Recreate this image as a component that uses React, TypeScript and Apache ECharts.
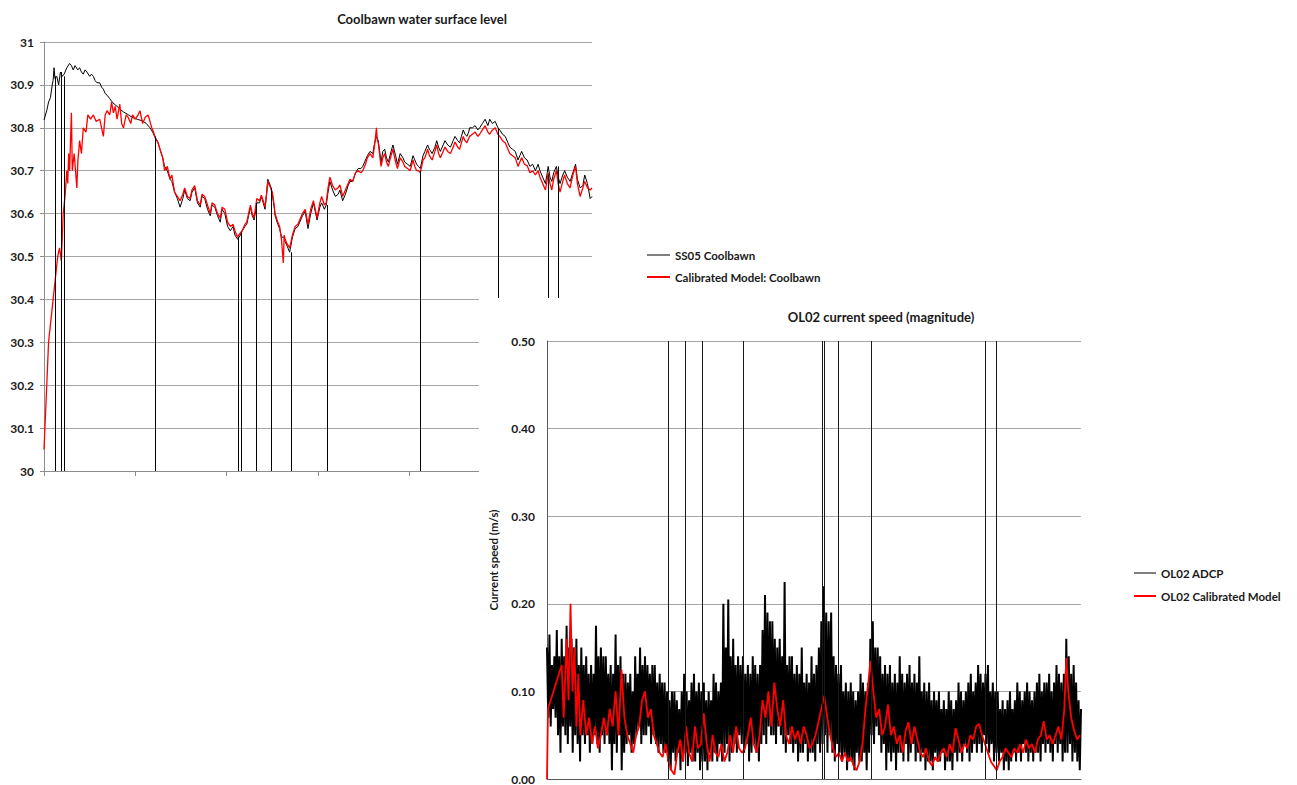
import React, { useEffect, useRef } from "react";
import * as echarts from "echarts";

const FONT = "Lato, 'Open Sans', 'Liberation Sans', sans-serif";
const TEXT = "#1a1a1a";

// ---------------- Chart 1: Coolbawn water surface level ----------------
// x: time step (0..600), y: water level (m)
const ss05Level: [number, number][] = [
  [0, 30.818], [3, 30.84], [5, 30.86], [7, 30.87], [9, 30.9], [10, 30.91], [11, 30.94], [12, 30.915],
  [14, 30.92], [16, 30.9], [18, 30.93], [20, 30.92], [22, 30.925], [23, 30.93], [25, 30.94], [28, 30.95],
  [30, 30.945], [32, 30.935], [34, 30.945], [37, 30.935], [39, 30.94], [41, 30.93], [43, 30.925], [45, 30.935],
  [47, 30.93], [50, 30.92], [52, 30.925], [54, 30.92], [56, 30.91], [58, 30.905], [61, 30.905], [63, 30.895],
  [65, 30.89], [67, 30.88], [69, 30.876], [72, 30.868], [74, 30.862], [77, 30.855], [80, 30.85], [84, 30.842],
  [87, 30.837], [91, 30.832], [94, 30.828], [98, 30.823], [102, 30.82], [105, 30.818], [108, 30.816], [112, 30.81],
  [116, 30.8], [119, 30.79], [121, 30.78], [124, 30.77], [127, 30.75], [130, 30.73], [132, 30.71], [135, 30.7],
  [138, 30.68], [140, 30.675], [143, 30.65], [146, 30.635], [149, 30.615], [152, 30.635], [154, 30.655], [157, 30.635],
  [160, 30.63], [162, 30.65], [165, 30.66], [168, 30.625], [171, 30.615], [173, 30.64], [176, 30.635], [179, 30.61],
  [182, 30.595], [184, 30.62], [187, 30.615], [190, 30.595], [193, 30.58], [195, 30.61], [198, 30.6], [201, 30.57],
  [204, 30.56], [207, 30.57], [209, 30.55], [212, 30.54], [215, 30.55], [217, 30.56], [220, 30.57], [222, 30.575],
  [224, 30.595], [226, 30.615], [228, 30.595], [230, 30.585], [232, 30.61], [233, 30.625], [236, 30.625], [238, 30.64],
  [240, 30.625], [242, 30.61], [244, 30.655], [245, 30.68], [248, 30.665], [250, 30.645], [252, 30.615], [253, 30.595],
  [256, 30.575], [258, 30.565], [260, 30.545], [263, 30.545], [264, 30.535], [266, 30.525], [269, 30.51], [272, 30.545],
  [275, 30.565], [278, 30.57], [280, 30.58], [283, 30.595], [286, 30.605], [289, 30.565], [292, 30.6], [295, 30.625],
  [297, 30.605], [299, 30.585], [302, 30.615], [304, 30.625], [307, 30.61], [309, 30.62], [311, 30.65], [313, 30.675],
  [316, 30.655], [319, 30.64], [322, 30.645], [324, 30.655], [327, 30.63], [330, 30.645], [333, 30.665], [335, 30.675],
  [338, 30.675], [341, 30.695], [344, 30.705], [347, 30.705], [349, 30.71], [352, 30.725], [354, 30.735], [357, 30.745],
  [360, 30.74], [362, 30.765], [364, 30.78], [366, 30.77], [369, 30.72], [371, 30.745], [373, 30.75], [375, 30.73],
  [377, 30.72], [380, 30.745], [382, 30.76], [385, 30.735], [387, 30.715], [390, 30.74], [393, 30.73], [395, 30.72],
  [398, 30.715], [401, 30.71], [404, 30.735], [406, 30.725], [408, 30.715], [410, 30.71], [412, 30.705], [415, 30.735],
  [417, 30.745], [420, 30.76], [422, 30.75], [425, 30.74], [428, 30.755], [430, 30.77], [432, 30.755], [434, 30.745],
  [437, 30.76], [439, 30.77], [442, 30.76], [445, 30.755], [448, 30.77], [450, 30.78], [453, 30.77], [455, 30.765],
  [457, 30.78], [459, 30.795], [461, 30.785], [463, 30.78], [465, 30.79], [466, 30.8], [469, 30.8], [472, 30.805],
  [475, 30.795], [477, 30.8], [480, 30.81], [483, 30.82], [486, 30.805], [488, 30.82], [491, 30.81], [494, 30.815],
  [497, 30.8], [499, 30.795], [502, 30.785], [505, 30.78], [508, 30.765], [510, 30.755], [513, 30.75], [516, 30.745],
  [519, 30.725], [521, 30.735], [523, 30.745], [526, 30.73], [529, 30.725], [532, 30.71], [535, 30.715], [538, 30.7],
  [541, 30.715], [543, 30.7], [546, 30.685], [549, 30.67], [551, 30.695], [552, 30.71], [554, 30.685], [556, 30.675],
  [558, 30.695], [561, 30.71], [563, 30.685], [565, 30.67], [568, 30.69], [570, 30.7], [573, 30.685], [576, 30.675],
  [579, 30.695], [582, 30.715], [584, 30.68], [587, 30.66], [590, 30.665], [592, 30.69], [595, 30.67], [598, 30.635],
  [600, 30.64],
];

// logger drop-outs (reading fell to zero): [time step, level just before the drop]
const ss05Dropouts: [number, number][] = [
  [12.6, 30.92], [19, 30.93], [22, 30.92], [121.3, 30.78], [212.4, 30.545], [216.1, 30.555],
  [232.5, 30.625], [248.4, 30.66], [270.7, 30.51], [309.9, 30.62], [411.7, 30.7], [497.7, 30.8],
  [552.6, 30.69], [562.7, 30.71],
];

const modelLevel: [number, number][] = [
  [0, 30.05], [1, 30.1], [3, 30.2], [5, 30.3], [10, 30.4], [15, 30.5], [17, 30.52], [19, 30.49],
  [21, 30.6], [23, 30.64], [25, 30.7], [26, 30.67], [27, 30.74], [28, 30.7], [30, 30.835], [31, 30.7],
  [33, 30.74], [36, 30.66], [37, 30.72], [39, 30.77], [41, 30.74], [43, 30.8], [46, 30.79], [48, 30.83],
  [51, 30.82], [54, 30.83], [57, 30.815], [61, 30.82], [63, 30.8], [65, 30.78], [67, 30.83], [69, 30.84],
  [72, 30.83], [74, 30.86], [76, 30.835], [78, 30.85], [80, 30.82], [83, 30.855], [85, 30.81], [87, 30.8],
  [90, 30.83], [92, 30.825], [95, 30.81], [97, 30.83], [100, 30.82], [103, 30.83], [105, 30.84], [108, 30.81],
  [111, 30.825], [114, 30.83], [116, 30.815], [118, 30.8], [120, 30.79], [122, 30.775], [125, 30.765], [127, 30.75],
  [130, 30.73], [132, 30.7], [135, 30.71], [138, 30.68], [140, 30.69], [143, 30.65], [146, 30.64], [149, 30.63],
  [152, 30.645], [154, 30.66], [157, 30.64], [160, 30.635], [162, 30.655], [165, 30.665], [168, 30.63], [171, 30.62],
  [173, 30.645], [176, 30.64], [179, 30.62], [182, 30.6], [184, 30.625], [187, 30.62], [190, 30.6], [193, 30.59],
  [195, 30.615], [198, 30.61], [201, 30.58], [204, 30.57], [207, 30.575], [209, 30.56], [212, 30.545], [215, 30.555],
  [217, 30.56], [220, 30.575], [222, 30.58], [224, 30.6], [226, 30.62], [228, 30.6], [230, 30.59], [232, 30.62],
  [233, 30.635], [236, 30.63], [238, 30.643], [240, 30.63], [242, 30.615], [244, 30.65], [245, 30.675], [248, 30.66],
  [250, 30.65], [252, 30.62], [253, 30.6], [256, 30.58], [258, 30.57], [260, 30.54], [262, 30.485], [263, 30.55],
  [264, 30.54], [266, 30.53], [269, 30.52], [272, 30.55], [275, 30.57], [278, 30.575], [280, 30.585], [283, 30.6],
  [286, 30.61], [289, 30.575], [292, 30.61], [295, 30.63], [297, 30.61], [299, 30.59], [302, 30.625], [304, 30.64],
  [307, 30.62], [309, 30.625], [311, 30.66], [313, 30.685], [316, 30.665], [319, 30.655], [322, 30.66], [324, 30.667],
  [327, 30.64], [330, 30.655], [333, 30.67], [335, 30.68], [338, 30.675], [341, 30.695], [344, 30.7], [347, 30.695],
  [349, 30.7], [352, 30.715], [354, 30.73], [357, 30.74], [360, 30.73], [362, 30.76], [364, 30.8], [365, 30.77],
  [366, 30.765], [369, 30.71], [371, 30.73], [373, 30.74], [375, 30.72], [377, 30.71], [380, 30.735], [382, 30.75],
  [385, 30.72], [387, 30.705], [390, 30.73], [393, 30.72], [395, 30.71], [398, 30.705], [401, 30.7], [404, 30.725],
  [406, 30.71], [408, 30.7], [410, 30.7], [412, 30.695], [415, 30.725], [417, 30.73], [420, 30.75], [422, 30.735],
  [425, 30.725], [428, 30.745], [430, 30.76], [432, 30.74], [434, 30.73], [437, 30.745], [439, 30.755], [442, 30.745],
  [445, 30.74], [448, 30.755], [450, 30.767], [453, 30.755], [455, 30.75], [457, 30.765], [459, 30.78], [461, 30.77],
  [463, 30.765], [465, 30.775], [466, 30.78], [469, 30.785], [472, 30.79], [475, 30.78], [477, 30.785], [480, 30.795],
  [483, 30.805], [486, 30.79], [488, 30.785], [491, 30.795], [494, 30.8], [497, 30.785], [499, 30.78], [502, 30.77],
  [505, 30.765], [508, 30.75], [510, 30.74], [513, 30.735], [516, 30.73], [519, 30.71], [521, 30.72], [523, 30.73],
  [526, 30.715], [529, 30.712], [532, 30.695], [535, 30.7], [538, 30.69], [541, 30.7], [543, 30.685], [546, 30.67],
  [549, 30.655], [551, 30.68], [552, 30.695], [554, 30.67], [556, 30.655], [558, 30.68], [561, 30.7], [563, 30.67],
  [565, 30.65], [568, 30.675], [570, 30.69], [573, 30.67], [576, 30.66], [579, 30.69], [582, 30.71], [584, 30.67],
  [587, 30.64], [590, 30.66], [592, 30.675], [595, 30.66], [598, 30.655], [600, 30.66],
];

// ---------------- Chart 2: OL02 current speed (magnitude) ----------------
const adcpStep = 1.25; // time steps between ADCP readings
const adcpSpeed: number[] = [
  0.15, 0.07, 0.165, 0.06, 0.13, 0.08, 0.14, 0.07,
  0.17, 0.05, 0.14, 0.03, 0.16, 0.06, 0.14, 0.05,
  0.175, 0.04, 0.15, 0.06, 0.16, 0.03, 0.15, 0.05,
  0.16, 0.04, 0.13, 0.02, 0.15, 0.05, 0.13, 0.04,
  0.14, 0.05, 0.12, 0.03, 0.13, 0.04, 0.12, 0.05,
  0.175, 0.04, 0.14, 0.03, 0.15, 0.05, 0.14, 0.04,
  0.14, 0.05, 0.12, 0.04, 0.13, 0.01, 0.12, 0.04,
  0.165, 0.03, 0.13, 0.05, 0.14, 0.01, 0.12, 0.03,
  0.12, 0.04, 0.11, 0.05, 0.12, 0.03, 0.1, 0.04,
  0.14, 0.05, 0.12, 0.06, 0.15, 0.04, 0.13, 0.05,
  0.14, 0.05, 0.13, 0.06, 0.12, 0.04, 0.13, 0.05,
  0.13, 0.04, 0.11, 0.03, 0.12, 0.04, 0.11, 0.03,
  0.11, 0.03, 0.1, 0.02, 0.09, 0.01, 0.1, 0.03,
  0.1, 0.02, 0.09, 0.03, 0.08, 0.01, 0.1, 0.02,
  0.12, 0.03, 0.1, 0.015, 0.09, 0.03, 0.11, 0.02,
  0.12, 0.02, 0.1, 0.03, 0.11, 0.01, 0.1, 0.02,
  0.11, 0.02, 0.09, 0.01, 0.1, 0.03, 0.09, 0.02,
  0.12, 0.03, 0.11, 0.02, 0.1, 0.04, 0.11, 0.02,
  0.2, 0.03, 0.15, 0.04, 0.205, 0.02, 0.14, 0.03,
  0.16, 0.04, 0.13, 0.03, 0.14, 0.05, 0.13, 0.04,
  0.14, 0.03, 0.12, 0.04, 0.13, 0.02, 0.12, 0.03,
  0.14, 0.04, 0.13, 0.03, 0.12, 0.02, 0.13, 0.04,
  0.17, 0.05, 0.21, 0.04, 0.19, 0.06, 0.18, 0.05,
  0.18, 0.05, 0.16, 0.04, 0.15, 0.06, 0.16, 0.05,
  0.14, 0.04, 0.225, 0.03, 0.13, 0.05, 0.14, 0.04,
  0.14, 0.03, 0.12, 0.04, 0.13, 0.02, 0.12, 0.03,
  0.15, 0.03, 0.11, 0.04, 0.12, 0.02, 0.11, 0.03,
  0.14, 0.03, 0.12, 0.02, 0.13, 0.04, 0.15, 0.03,
  0.18, 0.04, 0.22, 0.05, 0.19, 0.03, 0.18, 0.05,
  0.19, 0.03, 0.14, 0.02, 0.13, 0.04, 0.12, 0.03,
  0.13, 0.02, 0.1, 0.03, 0.11, 0.01, 0.1, 0.02,
  0.11, 0.02, 0.1, 0.01, 0.09, 0.03, 0.1, 0.02,
  0.12, 0.02, 0.11, 0.03, 0.1, 0.01, 0.11, 0.03,
  0.16, 0.05, 0.18, 0.04, 0.15, 0.06, 0.15, 0.05,
  0.14, 0.03, 0.12, 0.04, 0.13, 0.01, 0.12, 0.03,
  0.13, 0.02, 0.11, 0.03, 0.12, 0.01, 0.11, 0.03,
  0.14, 0.03, 0.12, 0.02, 0.11, 0.04, 0.12, 0.02,
  0.13, 0.03, 0.11, 0.04, 0.12, 0.02, 0.11, 0.03,
  0.14, 0.02, 0.1, 0.03, 0.11, 0.01, 0.1, 0.02,
  0.11, 0.02, 0.09, 0.01, 0.1, 0.03, 0.09, 0.02,
  0.1, 0.02, 0.08, 0.03, 0.09, 0.01, 0.08, 0.02,
  0.1, 0.02, 0.09, 0.01, 0.08, 0.03, 0.09, 0.02,
  0.11, 0.03, 0.1, 0.02, 0.09, 0.04, 0.1, 0.03,
  0.11, 0.02, 0.12, 0.03, 0.1, 0.04, 0.11, 0.03,
  0.13, 0.04, 0.12, 0.03, 0.11, 0.05, 0.12, 0.04,
  0.13, 0.03, 0.1, 0.04, 0.11, 0.02, 0.1, 0.03,
  0.1, 0.02, 0.08, 0.03, 0.09, 0.01, 0.08, 0.02,
  0.09, 0.01, 0.1, 0.02, 0.08, 0.03, 0.09, 0.02,
  0.11, 0.03, 0.1, 0.02, 0.09, 0.04, 0.1, 0.03,
  0.11, 0.02, 0.1, 0.03, 0.09, 0.02, 0.1, 0.03,
  0.11, 0.03, 0.12, 0.02, 0.1, 0.04, 0.11, 0.03,
  0.11, 0.04, 0.12, 0.03, 0.1, 0.02, 0.11, 0.04,
  0.13, 0.03, 0.12, 0.04, 0.11, 0.02, 0.12, 0.03,
  0.16, 0.03, 0.14, 0.04, 0.12, 0.02, 0.13, 0.03,
  0.11, 0.02, 0.09, 0.01, 0.08,
];
// ADCP bad readings far above the axis maximum (time step)
const adcpSpikes: number[] = [124, 141.3, 158.3, 200.3, 281.3, 282.6, 297.3, 331.3, 447.3, 458.3];

const modelSpeed: [number, number][] = [
  [0, 0], [1, 0.08], [15, 0.13], [17, 0.07], [20, 0.16], [22, 0.09], [24, 0.2], [26, 0.1], [28, 0.15],
  [30, 0.06], [32, 0.12], [34, 0.05], [37, 0.09], [40, 0.05], [43, 0.07], [46, 0.04], [49, 0.06], [52, 0.035],
  [55, 0.05], [58, 0.07], [61, 0.05], [64, 0.08], [67, 0.06], [70, 0.1], [73, 0.05], [76, 0.125], [79, 0.07],
  [82, 0.05], [85, 0.04], [88, 0.03], [91, 0.05], [94, 0.06], [97, 0.09], [100, 0.1], [103, 0.07], [106, 0.08],
  [109, 0.05], [112, 0.04], [115, 0.03], [118, 0.025], [121, 0.04], [124, 0.02], [127, 0.01], [130, 0.005],
  [133, 0.03], [136, 0.045], [139, 0.02], [142, 0.06], [145, 0.03], [148, 0.02], [151, 0.06], [154, 0.035],
  [157, 0.04], [160, 0.075], [163, 0.04], [166, 0.02], [169, 0.05], [172, 0.03], [175, 0.025], [178, 0.04],
  [181, 0.02], [184, 0.03], [187, 0.05], [190, 0.03], [193, 0.06], [196, 0.035], [199, 0.03], [202, 0.035],
  [205, 0.05], [208, 0.07], [211, 0.04], [214, 0.03], [217, 0.05], [220, 0.09], [223, 0.07], [226, 0.1],
  [229, 0.06], [232, 0.11], [235, 0.08], [238, 0.06], [241, 0.09], [244, 0.05], [247, 0.04], [250, 0.06],
  [253, 0.045], [256, 0.055], [259, 0.04], [262, 0.06], [265, 0.05], [268, 0.035], [271, 0.04], [274, 0.05],
  [277, 0.065], [280, 0.08], [283, 0.095], [286, 0.07], [289, 0.05], [292, 0.035], [295, 0.025], [298, 0.03],
  [301, 0.02], [304, 0.03], [307, 0.02], [310, 0.025], [313, 0.015], [316, 0.01], [319, 0.02], [322, 0.04],
  [325, 0.08], [328, 0.11], [330, 0.135], [333, 0.1], [336, 0.07], [339, 0.08], [342, 0.05], [345, 0.06],
  [348, 0.085], [351, 0.05], [354, 0.06], [357, 0.04], [360, 0.05], [363, 0.03], [366, 0.055], [369, 0.065],
  [372, 0.04], [375, 0.06], [378, 0.045], [381, 0.03], [384, 0.025], [387, 0.035], [390, 0.02], [393, 0.015],
  [396, 0.025], [399, 0.02], [402, 0.03], [405, 0.035], [408, 0.025], [411, 0.04], [414, 0.03], [417, 0.058],
  [420, 0.045], [423, 0.03], [426, 0.04], [429, 0.035], [432, 0.05], [435, 0.045], [438, 0.06], [441, 0.063],
  [444, 0.05], [447, 0.04], [450, 0.03], [453, 0.02], [456, 0.015], [459, 0.01], [462, 0.02], [465, 0.025],
  [468, 0.035], [471, 0.03], [474, 0.025], [477, 0.035], [480, 0.03], [483, 0.04], [486, 0.03], [489, 0.045],
  [492, 0.035], [495, 0.04], [498, 0.03], [501, 0.045], [504, 0.05], [507, 0.066], [510, 0.045], [513, 0.05],
  [516, 0.04], [519, 0.05], [522, 0.06], [525, 0.045], [528, 0.08], [530, 0.138], [532, 0.1], [535, 0.07],
  [538, 0.055], [541, 0.045], [544, 0.05],
];

const labelStyle = { fontFamily: FONT, fontSize: 12, fontWeight: "bold" as const, color: TEXT };

function buildLevelOption() {
  return {
    animation: false,
    title: {
      text: "Coolbawn water surface level",
      left: 422,
      top: 12,
      padding: 0,
      textAlign: "center",
      textStyle: { fontFamily: FONT, fontSize: 13, fontWeight: "bold", color: TEXT },
    },
    legend: {
      orient: "vertical",
      left: 642,
      top: 244,
      itemWidth: 23,
      itemHeight: 2,
      itemGap: 10,
      selectedMode: false,
      textStyle: { fontFamily: FONT, fontSize: 11.5, fontWeight: "bold", color: TEXT },
      data: [
        { name: "SS05 Coolbawn", icon: "rect", itemStyle: { color: "#7f7f7f" } },
        { name: "Calibrated Model: Coolbawn", icon: "rect", itemStyle: { color: "#ff0000" } },
      ],
    },
    grid: { left: 44, top: 42, width: 548, height: 429 },
    xAxis: {
      type: "value",
      min: 0,
      max: 600,
      interval: 100,
      axisLine: { show: true, lineStyle: { color: "#8c8c8c" } },
      axisTick: { show: true, length: 5, lineStyle: { color: "#8c8c8c" } },
      axisLabel: { show: false },
      splitLine: { show: false },
    },
    yAxis: {
      type: "value",
      min: 30,
      max: 31,
      interval: 0.1,
      axisLine: { show: true, lineStyle: { color: "#8c8c8c" } },
      axisTick: { show: true, length: 4, lineStyle: { color: "#8c8c8c" } },
      axisLabel: { ...labelStyle, margin: 10, formatter: (v: number) => String(Math.round(v * 10) / 10) },
      splitLine: { show: true, lineStyle: { color: "#a6a6a6", width: 1 } },
    },
    series: [
      {
        name: "SS05 Coolbawn",
        type: "line",
        data: ss05Level,
        showSymbol: false,
        symbol: "none",
        lineStyle: { color: "#000000", width: 1 },
        itemStyle: { color: "#000000" },
        markLine: {
          silent: true,
          symbol: ["none", "none"],
          label: { show: false },
          lineStyle: { color: "#000000", width: 1, type: "solid" },
          data: ss05Dropouts.map(([x, lvl]) => [{ coord: [x, 30] }, { coord: [x, lvl] }]),
        },
      },
      {
        name: "Calibrated Model: Coolbawn",
        type: "line",
        data: modelLevel,
        showSymbol: false,
        symbol: "none",
        lineStyle: { color: "#ff0000", width: 1.3 },
        itemStyle: { color: "#ff0000" },
      },
    ],
  };
}

function buildSpeedOption() {
  const adcpData = adcpSpeed.map((v, i) => [i * adcpStep, v]);
  const xMax = (adcpSpeed.length - 1) * adcpStep;
  return {
    animation: false,
    title: {
      text: "OL02 current speed (magnitude)",
      left: 402,
      top: 12,
      padding: 0,
      textAlign: "center",
      textStyle: { fontFamily: FONT, fontSize: 13, fontWeight: "bold", color: TEXT },
    },
    legend: {
      orient: "vertical",
      left: 650,
      top: 264,
      itemWidth: 22,
      itemHeight: 2,
      itemGap: 11,
      selectedMode: false,
      textStyle: { fontFamily: FONT, fontSize: 11.5, fontWeight: "bold", color: TEXT },
      data: [
        { name: "OL02 ADCP", icon: "rect", itemStyle: { color: "#7f7f7f" } },
        { name: "OL02 Calibrated Model", icon: "rect", itemStyle: { color: "#ff0000" } },
      ],
    },
    grid: { left: 57, top: 43, width: 545, height: 440 },
    xAxis: {
      type: "value",
      min: 0,
      max: xMax,
      axisLine: { show: true, lineStyle: { color: "#595959" } },
      axisTick: { show: false },
      axisLabel: { show: false },
      splitLine: { show: false },
    },
    yAxis: {
      type: "value",
      min: 0,
      max: 0.5,
      interval: 0.1,
      name: "Current speed (m/s)",
      nameLocation: "middle",
      nameGap: 48,
      nameTextStyle: { fontFamily: FONT, fontSize: 11.5, fontWeight: "bold", color: TEXT },
      axisLine: { show: true, lineStyle: { color: "#595959" } },
      axisTick: { show: false },
      axisLabel: { ...labelStyle, margin: 12, formatter: (v: number) => v.toFixed(2) },
      splitLine: { show: true, lineStyle: { color: "#a6a6a6", width: 1 } },
    },
    series: [
      {
        name: "OL02 ADCP",
        type: "line",
        data: adcpData,
        showSymbol: false,
        symbol: "none",
        lineStyle: { color: "#000000", width: 2 },
        itemStyle: { color: "#000000" },
        markLine: {
          silent: true,
          symbol: ["none", "none"],
          label: { show: false },
          lineStyle: { color: "#1a1a1a", width: 1, type: "solid" },
          data: adcpSpikes.map((x) => ({ xAxis: x })),
        },
      },
      {
        name: "OL02 Calibrated Model",
        type: "line",
        data: modelSpeed,
        showSymbol: false,
        symbol: "none",
        lineStyle: { color: "#ff0000", width: 1.8 },
        itemStyle: { color: "#ff0000" },
      },
    ],
  };
}

export default function App() {
  const levelRef = useRef<HTMLDivElement>(null);
  const speedRef = useRef<HTMLDivElement>(null);

  useEffect(() => {
    const c1 = echarts.init(levelRef.current as HTMLDivElement, undefined, { renderer: "svg" });
    c1.setOption(buildLevelOption() as any);
    const c2 = echarts.init(speedRef.current as HTMLDivElement, undefined, { renderer: "svg" });
    c2.setOption(buildSpeedOption() as any);
    return () => {
      c1.dispose();
      c2.dispose();
    };
  }, []);

  return (
    <div
      style={{
        position: "fixed",
        left: 0,
        top: 0,
        width: 1297,
        height: 785,
        background: "#ffffff",
        overflow: "hidden",
      }}
    >
      <div ref={levelRef} style={{ position: "absolute", left: 0, top: 0, width: 1297, height: 785 }} />
      <div
        ref={speedRef}
        style={{ position: "absolute", left: 479, top: 298, width: 818, height: 487, background: "#ffffff" }}
      />
    </div>
  );
}
